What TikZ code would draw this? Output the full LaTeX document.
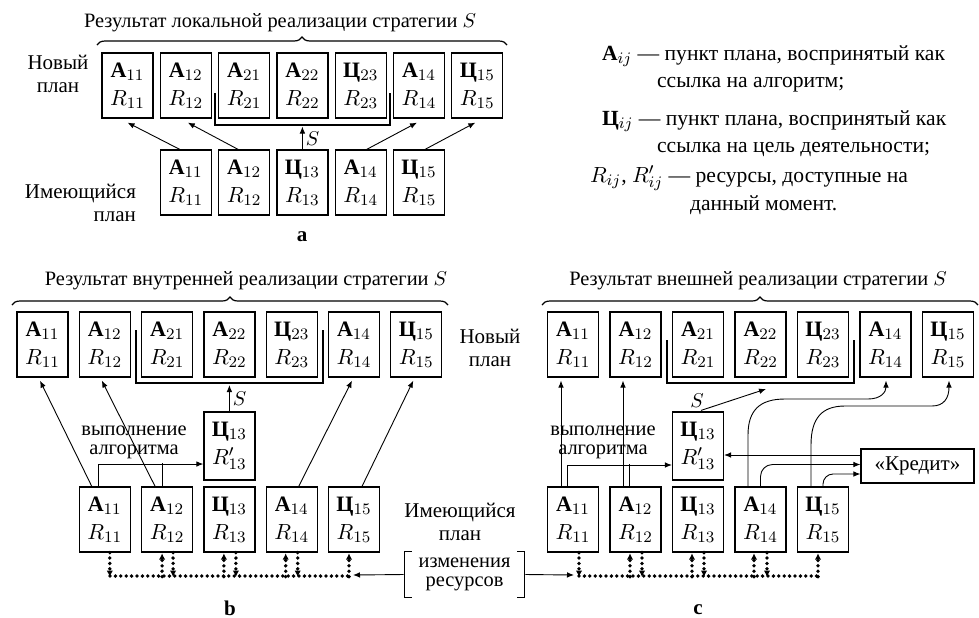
\documentclass[tikz,border=0pt]{standalone}
\usepackage{fontspec}
\setmainfont{Liberation Serif}
\usetikzlibrary{arrows.meta,calc,decorations.pathreplacing}
\newcommand\ItA[1]{$\mathbf{A}_{#1}$}
\newcommand\ItC[1]{\textbf{Ц}$_{#1}$}
\newcommand\ItR[1]{$R_{#1}$}
\newcommand\Bx[2]{#1\\[1pt]#2}
\tikzset{
 pbox/.style={draw, line width=0.6pt, minimum width=25.5pt, minimum height=32.5pt, inner sep=0pt, align=center, font=\fontsize{11}{13}\selectfont},
 arr/.style={-{Latex[length=3.5pt,width=2.8pt]}, line width=0.45pt},
 brk/.style={line width=0.6pt},
 dotl/.style={line width=1.9pt, dash pattern=on 0pt off 2.7pt, line cap=round},
 dtip/.style={dotl, -{Latex[length=3pt,width=3pt,line width=0pt]}},
 brc/.style={decorate, decoration={brace, amplitude=4pt}, line width=0.6pt},
 two/.style={align=center, font=\fontsize{10.5}{11.5}\selectfont},
 tight/.style={align=center, font=\fontsize{10.2}{9.4}\selectfont},
 leg/.style={anchor=base west, font=\fontsize{10.8}{12}\selectfont},
}
\begin{document}
\begin{tikzpicture}[x=0.5pt,y=-0.5pt, font=\fontsize{10.2}{12}\selectfont]
\useasboundingbox (0,0) rectangle (979,617);

% ================= part a =================
\node[anchor=base] (tita) at (280,27) {Результат локальной реализации стратегии $S$};
\draw[brc] (97,45) -- (507,45);
\node[pbox] (ta1) at (127.5,85.5) {\Bx{\ItA{11}}{\ItR{11}}};
\node[pbox] (ta2) at (185.8,85.5) {\Bx{\ItA{12}}{\ItR{12}}};
\node[pbox] (ta3) at (244.1,85.5) {\Bx{\ItA{21}}{\ItR{21}}};
\node[pbox] (ta4) at (302.4,85.5) {\Bx{\ItA{22}}{\ItR{22}}};
\node[pbox] (ta5) at (360.7,85.5) {\Bx{\ItC{23}}{\ItR{23}}};
\node[pbox] (ta6) at (419,85.5) {\Bx{\ItA{14}}{\ItR{14}}};
\node[pbox] (ta7) at (477.3,85.5) {\Bx{\ItC{15}}{\ItR{15}}};
\draw[brk] (215,93) |- (390,125) -- (390,93);
\coordinate (ba) at (302.4,126.5);
\node[pbox] (la1) at (185.8,182.5) {\Bx{\ItA{11}}{\ItR{11}}};
\node[pbox] (la2) at (244.1,182.5) {\Bx{\ItA{12}}{\ItR{12}}};
\node[pbox] (la3) at (302.4,182.5) {\Bx{\ItC{13}}{\ItR{13}}};
\node[pbox] (la4) at (360.7,182.5) {\Bx{\ItA{14}}{\ItR{14}}};
\node[pbox] (la5) at (419,182.5) {\Bx{\ItC{15}}{\ItR{15}}};
\draw[arr] ($(la1.north)+(-6,0)$) -- ($(ta1.south)+(0,4)$);
\draw[arr] ($(la2.north)+(-6,0)$) -- ($(ta2.south)+(2,4)$);
\draw[arr] (la3.north) -- (ba) node[pos=0.45, right, inner sep=1.5pt] (sa) {$S$};
\draw[arr] ($(la4.north)+(6,0)$) -- ($(ta6.south)+(-2,4)$);
\draw[arr] ($(la5.north)+(6,0)$) -- ($(ta7.south)+(-2,4)$);
\node[two] (npa) at (58,74) {Новый\\план};
\node[two, align=right, anchor=east] (ipa) at (143,203) {Имеющийся\\план};
\node[font=\fontsize{10.5}{12}\bfseries] (la) at (302,237) {a};

% legend
\node[leg] (lg1) at (595,60) {$\mathbf{A}_{ij}$ — пункт плана, воспринятый как};
\node[leg] (lg2) at (650,87) {ссылка на алгоритм;};
\node[leg] (lg3) at (595,125) {\textbf{Ц}$_{ij}$ — пункт плана, воспринятый как};
\node[leg] (lg4) at (650,152) {ссылка на цель деятельности;};
\node[leg] (lg5) at (583,182) {$R_{ij}$, $R'_{ij}$ — ресурсы, доступные на};
\node[leg] (lg6) at (683,210) {данный момент.};

% ================= part b =================
\node[anchor=base] (titb) at (246,285) {Результат внутренней реализации стратегии $S$};
\draw[brc] (12,305) -- (448,305);
\node[pbox] (tb1) at (42.5,344.5) {\Bx{\ItA{11}}{\ItR{11}}};
\node[pbox] (tb2) at (104.8,344.5) {\Bx{\ItA{12}}{\ItR{12}}};
\node[pbox] (tb3) at (167.1,344.5) {\Bx{\ItA{21}}{\ItR{21}}};
\node[pbox] (tb4) at (229.4,344.5) {\Bx{\ItA{22}}{\ItR{22}}};
\node[pbox] (tb5) at (291.7,344.5) {\Bx{\ItC{23}}{\ItR{23}}};
\node[pbox] (tb6) at (354,344.5) {\Bx{\ItA{14}}{\ItR{14}}};
\node[pbox] (tb7) at (416.3,344.5) {\Bx{\ItC{15}}{\ItR{15}}};
\draw[brk] (136,330) |- (323,383) -- (323,330);
\coordinate (bb) at (229.4,385);
\node[pbox, minimum height=34pt] (rb) at (229.4,446) {\Bx{\ItC{13}}{$R'_{13}$}};
\node[pbox] (lb1) at (104.8,519.5) {\Bx{\ItA{11}}{\ItR{11}}};
\node[pbox] (lb2) at (167.1,519.5) {\Bx{\ItA{12}}{\ItR{12}}};
\node[pbox] (lb3) at (229.4,519.5) {\Bx{\ItC{13}}{\ItR{13}}};
\node[pbox] (lb4) at (291.7,519.5) {\Bx{\ItA{14}}{\ItR{14}}};
\node[pbox] (lb5) at (354,519.5) {\Bx{\ItC{15}}{\ItR{15}}};
\draw[arr] ($(lb1.north)+(-13,0)$) -- ($(tb1.south)+(-2.5,3)$);
\draw[arr] ($(lb2.north)+(-12,0)$) -- ($(tb2.south)+(-3,3)$);
\draw[arr] ($(lb4.north)+(7,0)$) -- ($(tb6.south)+(-2,3)$);
\draw[arr] ($(lb5.north)+(8,0)$) -- ($(tb7.south)+(-3,3)$);
\draw[arr] (rb.north) -- (bb) node[pos=0.5, right, inner sep=1.5pt] (sb) {$S$};
\node[tight] (vab) at (134,442) {выполнение\\алгоритма};
\draw[arr] ($(lb1.north)+(-6,0)$) |- ($(rb.west)+(0,18)$);
\draw[line width=0.45pt] ($(lb2.north)+(-5,0)$) -- ++(0,-23);
% dotted resource bus b
\draw[dotl] (110,576) -- (349,576);
\draw[dtip] ($(lb1.south)+(5,0)$) -- ++(0,24);
\draw[dtip] ($(lb2.south)+(-5,24)$) -- ($(lb2.south)+(-5,1)$);
\draw[dtip] ($(lb2.south)+(6,0)$) -- ++(0,24);
\draw[dtip] ($(lb3.south)+(-5.5,24)$) -- ($(lb3.south)+(-5.5,1)$);
\draw[dtip] ($(lb3.south)+(6.5,0)$) -- ++(0,24);
\draw[dtip] ($(lb4.south)+(-6,24)$) -- ($(lb4.south)+(-6,1)$);
\draw[dtip] ($(lb4.south)+(6,0)$) -- ++(0,24);
\draw[dtip] ($(lb5.south)+(-5,24)$) -- ($(lb5.south)+(-5,1)$);
\coordinate (eb) at (353,575);
\node[font=\fontsize{10.5}{12}\bfseries] (lblb) at (230,608) {b};

% shared labels
\node[two] (npbc) at (490,348) {Новый\\план};
\node[two] (ipbc) at (460,522) {Имеющийся\\план};
\node[tight, minimum width=59.5pt, minimum height=22.5pt, inner sep=0pt] (izm) at (464.5,574.5) {изменения\\ресурсов};
\draw[brk] ($(izm.north west)+(7,0)$) -- (izm.north west) -- (izm.south west) -- ++(7,0);
\draw[brk] ($(izm.north east)+(-7,0)$) -- (izm.north east) -- (izm.south east) -- ++(-7,0);
\draw[arr] ($(izm.west)+(-1,0)$) -- (eb);
\coordinate (ec) at (574,575);
\draw[arr] ($(izm.east)+(1,0)$) -- (ec);

% ================= part c =================
\node[anchor=base] (titc) at (758,285) {Результат внешней реализации стратегии $S$};
\draw[brc] (542,305) -- (978,305);
\node[pbox] (tc1) at (573,344.5) {\Bx{\ItA{11}}{\ItR{11}}};
\node[pbox] (tc2) at (635.5,344.5) {\Bx{\ItA{12}}{\ItR{12}}};
\node[pbox] (tc3) at (698,344.5) {\Bx{\ItA{21}}{\ItR{21}}};
\node[pbox] (tc4) at (760.5,344.5) {\Bx{\ItA{22}}{\ItR{22}}};
\node[pbox] (tc5) at (823,344.5) {\Bx{\ItC{23}}{\ItR{23}}};
\node[pbox] (tc6) at (885.5,344.5) {\Bx{\ItA{14}}{\ItR{14}}};
\node[pbox] (tc7) at (948,344.5) {\Bx{\ItC{15}}{\ItR{15}}};
\draw[brk] (667,340) |- (854,383) -- (854,340);
\coordinate (bc) at (766,389);
\node[pbox, minimum height=34pt] (rc) at (698,446) {\Bx{\ItC{13}}{$R'_{13}$}};
\node[pbox] (lc1) at (573,519.5) {\Bx{\ItA{11}}{\ItR{11}}};
\node[pbox] (lc2) at (635.5,519.5) {\Bx{\ItA{12}}{\ItR{12}}};
\node[pbox] (lc3) at (698,519.5) {\Bx{\ItC{13}}{\ItR{13}}};
\node[pbox] (lc4) at (760.5,519.5) {\Bx{\ItA{14}}{\ItR{14}}};
\node[pbox] (lc5) at (823,519.5) {\Bx{\ItC{15}}{\ItR{15}}};
\node[draw, line width=0.6pt, minimum width=56.5pt, minimum height=17pt, inner sep=0pt, font=\fontsize{10.5}{12}\selectfont] (kr) at (917.5,466) {«Кредит»};
\draw[arr] ($(lc1.north)+(-12,0)$) -- ($(tc1.south)+(-12,3)$);
\draw[arr] ($(lc2.north)+(-12.5,0)$) -- ($(tc2.south)+(-12.5,3)$);
\draw[arr] ($(rc.north)+(3,-1)$) -- (bc);
\node (sc) at (697,401) {$S$};
\node[tight] (vac) at (603,442) {выполнение\\алгоритма};
\draw[arr] ($(lc1.north)+(-6,0)$) |- ($(rc.west)+(0,19)$);
\draw[line width=0.45pt] ($(lc2.north)+(-6.5,0)$) -- ++(0,-22);
\draw[arr] ($(kr.west)+(0,-11)$) -- ($(rc.east)+(0,9)$);
\draw[arr, rounded corners=6pt] (lc4.north) |- ($(kr.west)+(0,-1.5)$);
\draw[arr, rounded corners=5pt] (lc5.north) |- ($(kr.west)+(0,8)$);
\draw[arr] ($(lc4.north)+(-12.5,0)$) -- (748,435) .. controls (748,410) and (760,399) .. (785,399) -- (868,399) .. controls (881,399) and (886,392) .. ($(tc6.south)+(0.5,3)$);
\draw[arr] ($(lc5.north)+(-12,0)$) -- (811,445) .. controls (811,418) and (822,406) .. (845,406) -- (932,406) .. controls (944,406) and (949,398) .. ($(tc7.south)+(1,3)$);
% dotted resource bus c
\draw[dotl] (579,576) -- (818,576);
\draw[dtip] ($(lc1.south)+(6,0)$) -- ++(0,24);
\draw[dtip] ($(lc2.south)+(-5.5,24)$) -- ($(lc2.south)+(-5.5,1)$);
\draw[dtip] ($(lc2.south)+(6.5,0)$) -- ++(0,24);
\draw[dtip] ($(lc3.south)+(-6,24)$) -- ($(lc3.south)+(-6,1)$);
\draw[dtip] ($(lc3.south)+(6,0)$) -- ++(0,24);
\draw[dtip] ($(lc4.south)+(-6.5,24)$) -- ($(lc4.south)+(-6.5,1)$);
\draw[dtip] ($(lc4.south)+(6.5,0)$) -- ++(0,24);
\draw[dtip] ($(lc5.south)+(-5,24)$) -- ($(lc5.south)+(-5,1)$);
\node[font=\fontsize{10.5}{12}\bfseries] (lblc) at (698,610) {c};
\end{tikzpicture}
\end{document}
